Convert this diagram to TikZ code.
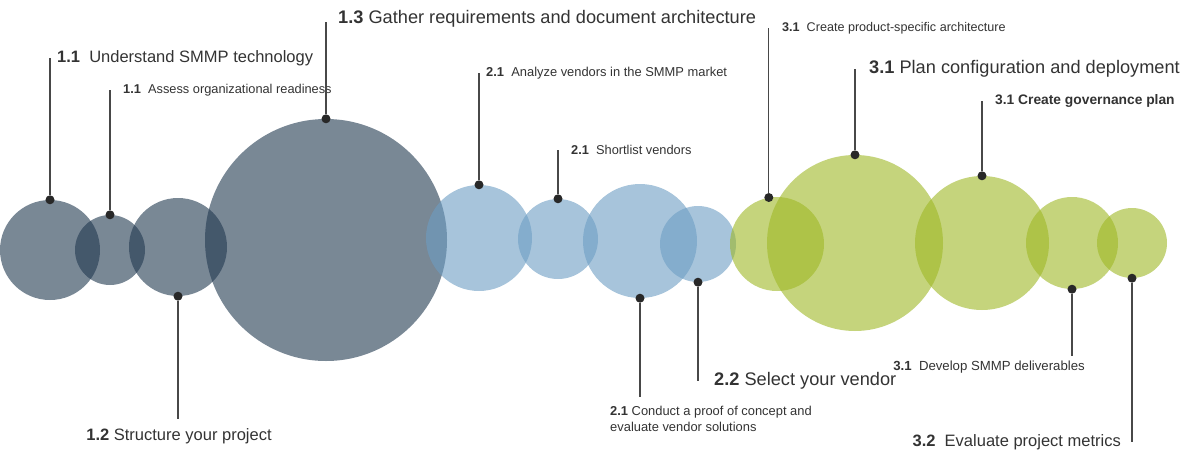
\documentclass[tikz,border=0pt]{standalone}
\usepackage{fontspec}
\setmainfont{Liberation Sans}
\usetikzlibrary{calc}
\definecolor{slate}{RGB}{32,56,79}
\definecolor{sky}{RGB}{108,157,195}
\definecolor{olive}{RGB}{158,183,37}
\definecolor{ink}{RGB}{51,51,51}
\definecolor{pin}{RGB}{40,40,40}
\newcommand{\fsz}[1]{\fontsize{#1pt}{1.25\dimexpr#1pt\relax}\selectfont}

\begin{document}
\begin{tikzpicture}[x=1pt,y=-1pt,
   bubble/.style={circle,inner sep=0pt,minimum size=#1,fill opacity=0.6},
   dot/.style={circle,fill=pin,inner sep=0pt,minimum size=9pt},
   leader/.style={draw=pin!85!white,line width=1.3pt},
   lbl/.style={inner sep=0pt,text=ink,font=\fsz{#1},align=left}]
   \useasboundingbox (0,0) rectangle (1200,461);

   % phase 1
   \node[bubble=100pt,fill=slate] (c1) at (50,250) {};
   \node[bubble=70pt,fill=slate] (c2) at (110,250) {};
   \node[bubble=98pt,fill=slate] (c3) at (178,247) {};
   \node[bubble=242pt,fill=slate] (c4) at (326,240) {};
   % phase 2
   \node[bubble=106pt,fill=sky] (b1) at (479,238) {};
   \node[bubble=80pt,fill=sky] (b2) at (558,239) {};
   \node[bubble=114pt,fill=sky] (b3) at (640,241) {};
   \node[bubble=76pt,fill=sky] (b4) at (698,244) {};
   % phase 3
   \node[bubble=94pt,fill=olive] (g1) at (777,244) {};
   \node[bubble=176pt,fill=olive] (g2) at (855,243) {};
   \node[bubble=134pt,fill=olive] (g3) at (982,243) {};
   \node[bubble=92pt,fill=olive] (g4) at (1072,243) {};
   \node[bubble=70pt,fill=olive] (g5) at (1132,243) {};

   % labels above
   \node[lbl=16.5,anchor=west] (l1) at (57,58) {\textbf{1.1}\ \ Understand SMMP technology};
   \node[lbl=12.8,anchor=west] (l2) at (123,90) {\textbf{1.1}\ \ Assess organizational readiness};
   \node[lbl=18.2,anchor=west] (l3) at (338,19) {\textbf{1.3} Gather requirements and document architecture};
   \node[lbl=12.9,anchor=west] (l4) at (486,73) {\textbf{2.1}\ \ Analyze vendors in the SMMP market};
   \node[lbl=12.8,anchor=west] (l5) at (571,150) {\textbf{2.1}\ \ Shortlist vendors};
   \node[lbl=12.6,anchor=west] (l6) at (782,28) {\textbf{3.1}\ \ Create product-specific architecture};
   \node[lbl=18.2,anchor=west] (l7) at (869,69) {\textbf{3.1} Plan configuration and deployment};
   \node[lbl=13.8,anchor=west] (l8) at (995,101) {\textbf{3.1 Create governance plan}};
   % labels below
   \node[lbl=16.5,anchor=north] (l9) at (179,428) {\textbf{1.2} Structure your project};
   \node[lbl=12.9,anchor=north west] (l10) at (610,406) {\textbf{2.1} Conduct a proof of concept and\\evaluate vendor solutions};
   \node[lbl=18.2,anchor=west] (l11) at (714,381) {\textbf{2.2} Select your vendor};
   \node[lbl=13.2,anchor=north east] (l12) at (1085,361) {\textbf{3.1}\ \ Develop SMMP deliverables};
   \node[lbl=16.5,anchor=east] (l13) at (1121,442) {\textbf{3.2}\ \ Evaluate project metrics};

   % pins
   \node[dot] (d1) at (c1.north) {};
   \node[dot] (d2) at (c2.north) {};
   \node[dot] (d3) at (c4.north) {};
   \node[dot] (d4) at (b1.north) {};
   \node[dot] (d5) at (b2.north) {};
   \node[dot] (d6) at (g1.100) {};
   \node[dot] (d7) at (g2.north) {};
   \node[dot] (d8) at (g3.north) {};
   \node[dot] (d9) at (c3.south) {};
   \node[dot] (d10) at (b3.south) {};
   \node[dot] (d11) at (b4.south) {};
   \node[dot] (d12) at (g4.south) {};
   \node[dot] (d13) at (g5.south) {};

   \draw[leader] (d1) -- (d1 |- l1.west);
   \draw[leader] (d2) -- (d2 |- l2.west);
   \draw[leader] (d3) -- ($(d3 |- l3.west)+(0,3)$);
   \draw[leader] (d4) -- (d4 |- l4.west);
   \draw[leader] (d5) -- (d5 |- l5.west);
   \draw[leader] (d6) -- (d6 |- l6.west);
   \draw[leader] (d7) -- (d7 |- l7.west);
   \draw[leader] (d8) -- (d8 |- l8.west);
   \draw[leader] (d9) -- ($(d9 |- l9.north)+(0,-9)$);
   \draw[leader] (d10) -- ($(d10 |- l10.north)+(0,-9)$);
   \draw[leader] (d11) -- (d11 |- l11.west);
   \draw[leader] (d12) -- ($(d12 |- l12.north)+(0,-5)$);
   \draw[leader] (d13) -- (d13 |- l13.east);
\end{tikzpicture}
\end{document}
